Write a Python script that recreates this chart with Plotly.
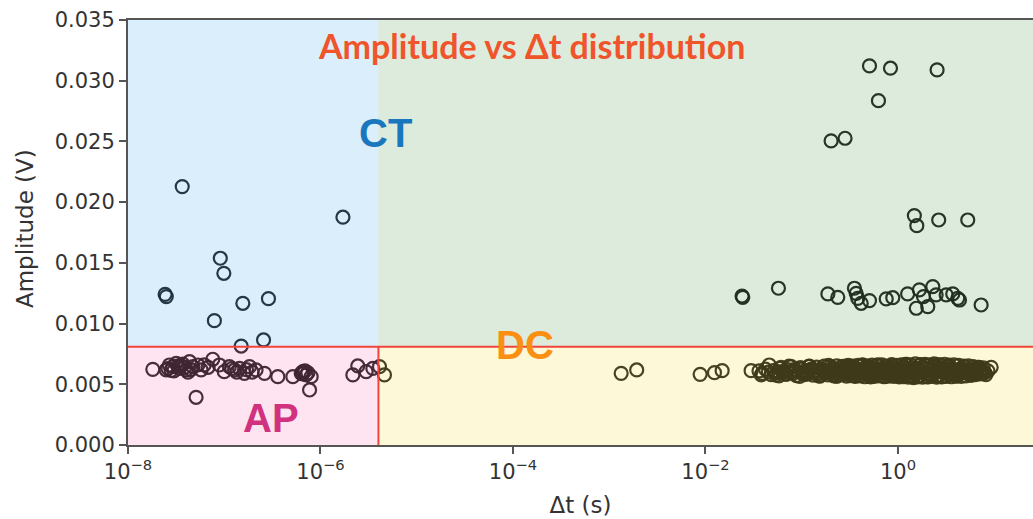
import plotly.graph_objects as go

# ---------------- data ----------------
# Crosstalk-like points (short dt, high amplitude)
ct_dt = [3.66e-8, 1.71e-6, 9.1e-8, 9.9e-8, 2.43e-8, 2.5e-8, 2.88e-7, 1.56e-7, 7.9e-8, 2.56e-7, 1.5e-7]
ct_amp = [0.02128, 0.01876, 0.01538, 0.01414, 0.01241, 0.01222, 0.01205, 0.01167, 0.01024, 0.00865, 0.00815]

# Afterpulse-like points (short dt, low amplitude)
ap_dt = [1.81e-8, 2.49e-8, 2.6e-8, 2.7e-8, 2.92e-8, 3.0e-8, 3.17e-8, 3.3e-8, 3.43e-8, 3.72e-8,
         3.9e-8, 4.02e-8, 4.36e-8, 4.5e-8, 4.72e-8, 5.32e-8, 5.75e-8, 6.2e-8, 6.8e-8, 7.6e-8,
         8.9e-8, 1.0e-7, 1.13e-7, 1.2e-7, 1.28e-7, 1.35e-7, 1.44e-7, 1.62e-7, 1.7e-7, 1.83e-7,
         1.95e-7, 2.14e-7, 2.62e-7, 3.6e-7, 5.16e-7, 6.3e-7, 6.56e-7, 6.9e-7, 7.1e-7, 8.0e-7,
         2.17e-6, 2.44e-6, 2.98e-6, 3.5e-6, 5.1e-8, 7.7e-7,
         2.8e-8, 3.5e-8, 4.2e-8, 6.5e-7, 7.4e-7]
ap_amp = [0.00623, 0.00618, 0.00630, 0.00659, 0.00645, 0.00610, 0.00673, 0.00650, 0.00631, 0.00667,
          0.00640, 0.00618, 0.00686, 0.00620, 0.00645, 0.00659, 0.00618, 0.00660, 0.00640, 0.00706,
          0.00659, 0.00604, 0.00645, 0.00630, 0.00618, 0.00600, 0.00631, 0.00590, 0.00620, 0.00645,
          0.00600, 0.00618, 0.00590, 0.00563, 0.00563, 0.00590, 0.00604, 0.00610, 0.00577, 0.00563,
          0.00577, 0.00651, 0.00604, 0.00631, 0.00393, 0.00453,
          0.00615, 0.00655, 0.00600, 0.00585, 0.00595]

# Dark-count-like points (long dt, low amplitude)
dc_dt = [4.1e-6, 4.62e-6, 1.33e-3, 1.93e-3, 8.8e-3, 1.24e-2, 1.49e-2, 2.98e-2, 3.8e-2, 4.6e-2, 5.75e-2,
         0.036, 0.039, 0.042, 0.045, 0.048, 0.052, 0.055, 0.059, 0.063, 0.067,
         0.071, 0.076, 0.081, 0.086, 0.092, 0.098, 0.104, 0.11, 0.117, 0.124,
         0.132, 0.14, 0.149, 0.158, 0.168, 0.178, 0.189, 0.2, 0.212, 0.225,
         0.238, 0.252, 0.267, 0.283, 0.3, 0.318, 0.337, 0.357, 0.378, 0.4,
         0.42, 0.445, 0.47, 0.5, 0.53, 0.56, 0.59, 0.63, 0.67, 0.71,
         0.75, 0.8, 0.85, 0.9, 0.95, 1.0, 1.06, 1.12, 1.19, 1.26,
         1.33, 1.41, 1.5, 1.58, 1.68, 1.78, 1.88, 2.0, 2.1, 2.2,
         2.35, 2.5, 2.65, 2.8, 3.0, 3.15, 3.35, 3.55, 3.75, 4.0,
         4.2, 4.5, 4.7, 5.0, 5.3, 5.6, 6.0, 6.3, 6.7, 7.1,
         7.5, 8.0, 8.6, 9.3,
         0.058, 0.074, 0.095, 0.12, 0.15, 0.19, 0.23, 0.29, 0.35, 0.43,
         0.52, 0.62, 0.73, 0.88, 1.03, 1.23, 1.45, 1.72, 2.05, 2.4,
         2.9, 3.4, 4.1, 4.9, 5.8, 6.9, 8.2,
         0.065, 0.083, 0.101, 0.114, 0.128, 0.145, 0.163, 0.183, 0.206, 0.218,
         0.245, 0.26, 0.275, 0.31, 0.327, 0.347, 0.368, 0.39, 0.41, 0.46,
         0.485, 0.515, 0.545, 0.575, 0.61, 0.65, 0.69, 0.77, 0.82, 0.87,
         0.93, 0.98, 1.09, 1.15, 1.22, 1.3, 1.37, 1.54, 1.63, 1.83,
         1.94, 2.15, 2.28, 2.45, 2.58, 2.72, 2.95, 3.1, 3.25, 3.45,
         3.65, 3.9, 4.35, 4.6, 5.15, 5.45, 6.15, 6.5, 7.3, 7.8,
         0.054, 0.061, 0.069, 0.078, 0.088, 0.097, 0.107, 0.119, 0.131, 0.143,
         0.155, 0.171, 0.186, 0.198, 0.215, 0.232, 0.249, 0.271, 0.292, 0.305,
         0.322, 0.342, 0.362, 0.384, 0.405, 0.428, 0.452, 0.478, 0.508, 0.538,
         0.568, 0.598, 0.64, 0.68, 0.72, 0.76, 0.81, 0.86, 0.91, 0.96,
         1.02, 1.08, 1.14, 1.2, 1.28, 1.35, 1.43, 1.52, 1.6, 1.7,
         1.8, 1.91, 2.02, 2.12, 2.25, 2.38, 2.52, 2.68, 2.85, 3.05,
         3.2, 3.4, 3.6, 3.82, 4.05, 4.28, 4.55, 4.82, 5.1, 5.4,
         5.7, 6.05, 6.4, 6.85, 7.2, 7.7, 0.108, 0.135, 0.175, 0.222,
         0.28, 0.33, 0.39, 0.44, 0.49, 0.55, 0.6, 0.66, 0.74, 0.84]
dc_amp = [0.00645, 0.00577, 0.00590, 0.00618, 0.00582, 0.00596, 0.00612, 0.00612, 0.00577, 0.00659, 0.00600,
          0.00610, 0.00590, 0.00625, 0.00600, 0.00580, 0.00615, 0.00595, 0.00630, 0.00605, 0.00585,
          0.00620, 0.00600, 0.00590, 0.00615, 0.00605, 0.00625, 0.00595, 0.00610, 0.00585, 0.00620,
          0.00600, 0.00615, 0.00590, 0.00625, 0.00605, 0.00595, 0.00615, 0.00600, 0.00620, 0.00590,
          0.00610, 0.00600, 0.00625, 0.00585, 0.00615, 0.00605, 0.00595, 0.00620, 0.00600, 0.00610,
          0.00590, 0.00625, 0.00600, 0.00615, 0.00580, 0.00620, 0.00605, 0.00595, 0.00630, 0.00600,
          0.00615, 0.00585, 0.00625, 0.00605, 0.00595, 0.00620, 0.00600, 0.00640, 0.00575, 0.00615,
          0.00600, 0.00635, 0.00590, 0.00620, 0.00570, 0.00640, 0.00605, 0.00625, 0.00580, 0.00615,
          0.00645, 0.00600, 0.00575, 0.00635, 0.00610, 0.00590, 0.00625, 0.00600, 0.00615, 0.00585,
          0.00620, 0.00600, 0.00610, 0.00595, 0.00620, 0.00600, 0.00590, 0.00615, 0.00605, 0.00610,
          0.00600, 0.00595, 0.00610, 0.00640,
          0.00570, 0.00650, 0.00565, 0.00650, 0.00570, 0.00655, 0.00565, 0.00650, 0.00570, 0.00655,
          0.00560, 0.00660, 0.00565, 0.00655, 0.00560, 0.00665, 0.00555, 0.00660, 0.00560, 0.00655,
          0.00565, 0.00650, 0.00570, 0.00645, 0.00575, 0.00640, 0.00580,
          0.00605, 0.00620, 0.00590, 0.00608, 0.00628, 0.00585, 0.00612, 0.00598, 0.00632, 0.00578,
          0.00610, 0.00645, 0.00592, 0.00618, 0.00600, 0.00635, 0.00585, 0.00610, 0.00625, 0.00595,
          0.00640, 0.00588, 0.00615, 0.00632, 0.00580, 0.00612, 0.00598, 0.00628, 0.00590, 0.00640,
          0.00605, 0.00585, 0.00622, 0.00648, 0.00592, 0.00610, 0.00575, 0.00630, 0.00612, 0.00598,
          0.00655, 0.00585, 0.00620, 0.00640, 0.00570, 0.00612, 0.00635, 0.00595, 0.00650, 0.00580,
          0.00622, 0.00605, 0.00588, 0.00630, 0.00612, 0.00598, 0.00625, 0.00605, 0.00615, 0.00600,
          0.00575, 0.00640, 0.00582, 0.00645, 0.00572, 0.00638, 0.00580, 0.00648, 0.00575, 0.00642,
          0.00568, 0.00650, 0.00578, 0.00645, 0.00570, 0.00652, 0.00575, 0.00648, 0.00568, 0.00655,
          0.00572, 0.00650, 0.00565, 0.00655, 0.00570, 0.00660, 0.00562, 0.00652, 0.00568, 0.00658,
          0.00565, 0.00655, 0.00570, 0.00660, 0.00562, 0.00650, 0.00568, 0.00662, 0.00565, 0.00655,
          0.00570, 0.00660, 0.00562, 0.00665, 0.00558, 0.00660, 0.00565, 0.00668, 0.00560, 0.00662,
          0.00558, 0.00665, 0.00562, 0.00660, 0.00565, 0.00668, 0.00558, 0.00662, 0.00560, 0.00665,
          0.00565, 0.00658, 0.00562, 0.00660, 0.00568, 0.00655, 0.00565, 0.00650, 0.00570, 0.00652,
          0.00575, 0.00645, 0.00580, 0.00640, 0.00585, 0.00635, 0.00608, 0.00602, 0.00612, 0.00606,
          0.00603, 0.00609, 0.00611, 0.00604, 0.00607, 0.00613, 0.00601, 0.00606, 0.00610, 0.00604]

# Long dt, high amplitude points
hi_dt = [0.506, 0.836, 2.55, 0.627, 0.202, 0.282, 1.48, 1.57, 2.65, 5.31,
         0.0240, 0.0244, 0.0573, 0.187, 0.237, 0.353, 0.368, 0.382, 0.415, 0.506,
         0.755, 0.883, 1.26, 1.55, 1.67, 1.84, 2.04, 2.30, 2.49, 3.17,
         3.71, 4.18, 4.36, 7.31]
hi_amp = [0.03122, 0.03103, 0.03089, 0.02836, 0.02504, 0.02526, 0.01889, 0.01806, 0.01853, 0.01853,
          0.01227, 0.01216, 0.01291, 0.01244, 0.01216, 0.01291, 0.01249, 0.01208, 0.01167, 0.01189,
          0.01203, 0.01213, 0.01244, 0.01126, 0.01277, 0.01222, 0.01139, 0.01304, 0.01236, 0.01236,
          0.01244, 0.01208, 0.01194, 0.01153]

# Thresholds separating the regions
dt_split = 4e-6
amp_split = 0.0081

# Axes
x_tickvals = [1e-8, 1e-6, 1e-4, 1e-2, 1e0]
x_ticktext = ["10<sup>\u22128</sup>", "10<sup>\u22126</sup>", "10<sup>\u22124</sup>",
              "10<sup>\u22122</sup>", "10<sup>0</sup>"]
y_tickvals = [0.000, 0.005, 0.010, 0.015, 0.020, 0.025, 0.030, 0.035]

title_text = "Amplitude vs \u0394t distribution"
x_title = "\u0394t (s)"
y_title = "Amplitude (V)"
region_labels = ["CT", "DC", "AP"]

# ---------------- figure ----------------
all_dt = ct_dt + ap_dt + dc_dt + hi_dt
all_amp = ct_amp + ap_amp + dc_amp + hi_amp

fig = go.Figure()
fig.add_trace(go.Scatter(
    x=all_dt, y=all_amp, mode="markers",
    marker=dict(symbol="circle-open", size=13, color="rgba(0,0,0,0.95)",
                line=dict(width=2.2)),
    showlegend=False, hoverinfo="x+y"))

x_min, x_max = 1e-8, 10 ** 1.403
y_min, y_max = 0.0, 0.035

shapes = [
    dict(type="rect", xref="x", yref="y", x0=x_min, x1=dt_split, y0=amp_split, y1=y_max,
         fillcolor="rgba(111,187,239,0.25)", line=dict(width=0), layer="above"),
    dict(type="rect", xref="x", yref="y", x0=dt_split, x1=x_max, y0=amp_split, y1=y_max,
         fillcolor="rgba(115,175,115,0.25)", line=dict(width=0), layer="above"),
    dict(type="rect", xref="x", yref="y", x0=x_min, x1=dt_split, y0=y_min, y1=amp_split,
         fillcolor="rgba(247,147,195,0.25)", line=dict(width=0), layer="above"),
    dict(type="rect", xref="x", yref="y", x0=dt_split, x1=x_max, y0=y_min, y1=amp_split,
         fillcolor="rgba(247,227,99,0.25)", line=dict(width=0), layer="above"),
    dict(type="line", xref="paper", yref="y", x0=0, x1=1, y0=amp_split, y1=amp_split,
         line=dict(color="#f0453a", width=2), layer="above"),
    dict(type="line", xref="x", yref="y", x0=dt_split, x1=dt_split, y0=y_min, y1=amp_split,
         line=dict(color="#f0453a", width=2), layer="above"),
]

title_font = dict(family="DejaVu Sans", size=23, color="#333333")
annotations = [
    dict(text="<b>" + title_text + "</b>", xref="paper", yref="paper", x=0.446, y=0.941,
         showarrow=False, font=dict(family="Lato", size=34, color="#f0542a"),
         xanchor="center", yanchor="middle"),
    dict(text="<b>" + region_labels[0] + "</b>", xref="paper", yref="paper", x=0.2845, y=0.734,
         showarrow=False, font=dict(family="Liberation Sans", size=40, color="#1b77bd"),
         xanchor="center", yanchor="middle"),
    dict(text="<b>" + region_labels[1] + "</b>", xref="paper", yref="paper", x=0.439, y=0.235,
         showarrow=False, font=dict(family="Liberation Sans", size=40, color="#fb8f12"),
         xanchor="center", yanchor="middle"),
    dict(text="<b>" + region_labels[2] + "</b>", xref="paper", yref="paper", x=0.158, y=0.064,
         showarrow=False, font=dict(family="Liberation Sans", size=40, color="#d0327f"),
         xanchor="center", yanchor="middle"),
    dict(text=y_title, xref="paper", yref="paper", x=-0.114, y=0.51, textangle=-90,
         showarrow=False, font=title_font, xanchor="center", yanchor="middle"),
]

tick_font = dict(family="DejaVu Sans", size=21, color="#333333")
fig.update_layout(
    width=1033, height=519,
    margin=dict(l=128, r=0, t=20, b=74),
    paper_bgcolor="white", plot_bgcolor="white",
    shapes=shapes, annotations=annotations,
    xaxis=dict(type="log", range=[-8, 1.403], tickvals=x_tickvals, ticktext=x_ticktext,
               showgrid=False, zeroline=False, showline=True, linecolor="#555555", linewidth=2,
               mirror=True, ticks="outside", ticklen=7, tickwidth=1.5, tickcolor="#555555",
               tickfont=tick_font,
               title=dict(text=x_title, font=title_font, standoff=14)),
    yaxis=dict(range=[y_min, y_max], tickvals=y_tickvals, tickformat=".3f",
               showgrid=False, zeroline=False, showline=True, linecolor="#555555", linewidth=2,
               ticks="outside", ticklen=7, tickwidth=1.5, tickcolor="#555555",
               tickfont=tick_font),
)

fig.write_html("out.html")
